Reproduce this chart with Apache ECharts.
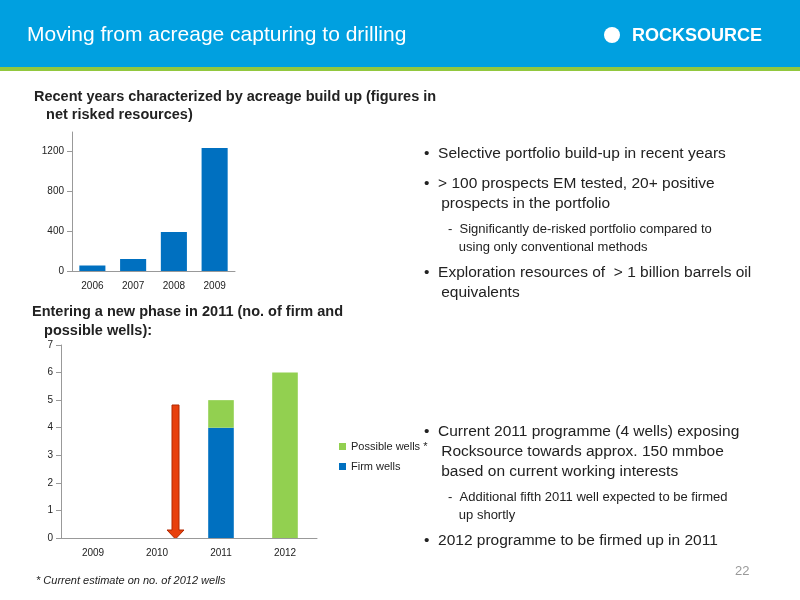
<!DOCTYPE html>
<html>
<head>
<meta charset="utf-8">
<script src="https://cdn.jsdelivr.net/npm/echarts@6/dist/echarts.min.js"></script>
<style>
  html, body { margin: 0; padding: 0; background: #fff; }
  #main { width: 800px; height: 600px; }
</style>
</head>
<body>
<div id="main"></div>
<script>
// top chart: acreage build up
const resYears = ['2006', '2007', '2008', '2009'];
const resValues = [55, 120, 390, 1230];

// bottom chart: wells
const wellYears = ['2009', '2010', '2011', '2012'];
const firmWells = [0, 0, 4, 0];
const possibleWells = [0, 0, 1, 6];

const blue = '#0070c0';
const green = '#92d050';
const font = 'Liberation Sans, Arial, sans-serif';

function txt(x, y, s, size, opts) {
  return {
    type: 'text', left: x, top: y,
    style: Object.assign({ text: s, font: size + 'px ' + font, fill: '#222' }, opts || {})
  };
}

const chart = echarts.init(document.getElementById('main'));

const bullets = [
  txt(424, 146, '•  Selective portfolio build-up in recent years', 15.5),
  txt(424, 174, '•  > 100 prospects EM tested, 20+ positive\n    prospects in the portfolio', 15.5, { lineHeight: 20 }),
  txt(448, 220, '-  Significantly de-risked portfolio compared to\n   using only conventional methods', 13, { lineHeight: 18 }),
  txt(424, 263, '•  Exploration resources of  > 1 billion barrels oil\n    equivalents', 15.5, { lineHeight: 20 }),
  txt(424, 422, '•  Current 2011 programme (4 wells) exposing\n    Rocksource towards approx. 150 mmboe\n    based on current working interests', 15.5, { lineHeight: 20 }),
  txt(448, 488, '-  Additional fifth 2011 well expected to be firmed\n   up shortly', 13, { lineHeight: 18 }),
  txt(424, 533, '•  2012 programme to be firmed up in 2011', 15.5)
];

const option = {
  animation: false,
  graphic: [
    { type: 'rect', shape: { x: 0, y: 0, width: 800, height: 68 }, style: { fill: '#00a0e0' } },
    { type: 'rect', shape: { x: 0, y: 67, width: 800, height: 4 }, style: { fill: '#92c83e' } },
    txt(27, 25, 'Moving from acreage capturing to drilling', 21, { fill: '#fff' }),
    { type: 'circle', shape: { cx: 612, cy: 35, r: 8 }, style: { fill: '#fff' } },
    txt(632, 27, 'ROCKSOURCE', 18, { fill: '#fff', font: 'bold 18px ' + font }),
    txt(34, 88, 'Recent years characterized by acreage build up (figures in\n   net risked resources)', 14.5, { font: 'bold 14.5px ' + font, lineHeight: 18 }),
    txt(32, 302, 'Entering a new phase in 2011 (no. of firm and\n   possible wells):', 14.5, { font: 'bold 14.5px ' + font, lineHeight: 19 }),
    txt(36, 575, '* Current estimate on no. of 2012 wells', 11, { font: 'italic 11px ' + font }),
    txt(735, 565, '22', 13, { fill: '#999' }),
    // red arrow annotation
    { type: 'polygon', shape: { points: [[172, 405], [179, 405], [179, 530], [184, 530], [175.5, 539], [167, 530], [172, 530]] },
      style: { fill: '#e8400c', stroke: '#b02800', lineWidth: 1 } }
  ].concat(bullets),
  grid: [
    { left: 72, top: 132, width: 163, height: 139 },
    { left: 61, top: 345, width: 256, height: 193 }
  ],
  legend: {
    orient: 'vertical', left: 334, top: 436, itemWidth: 7, itemHeight: 7, itemGap: 9,
    textStyle: { fontSize: 11, fontFamily: font, color: '#222' },
    data: [
      { name: 'Possible wells *', icon: 'rect' },
      { name: 'Firm wells', icon: 'rect' }
    ]
  },
  xAxis: [
    { gridIndex: 0, type: 'category', data: resYears,
      axisLine: { lineStyle: { color: '#999' } }, axisTick: { lineStyle: { color: '#999' } },
      axisLabel: { color: '#222', fontSize: 10, fontFamily: font, margin: 10 } },
    { gridIndex: 1, type: 'category', data: wellYears,
      axisLine: { lineStyle: { color: '#999' } }, axisTick: { lineStyle: { color: '#999' } },
      axisLabel: { color: '#222', fontSize: 10, fontFamily: font, margin: 10 } }
  ],
  yAxis: [
    { gridIndex: 0, type: 'value', min: 0, max: 1390, interval: 400, splitLine: { show: false },
      axisLine: { show: true, lineStyle: { color: '#999' } }, axisTick: { show: true, lineStyle: { color: '#999' } },
      axisLabel: { color: '#222', fontSize: 10, fontFamily: font, showMaxLabel: false, formatter: v => String(v) } },
    { gridIndex: 1, type: 'value', min: 0, max: 7, interval: 1, splitLine: { show: false },
      axisLine: { show: true, lineStyle: { color: '#999' } }, axisTick: { show: true, lineStyle: { color: '#999' } },
      axisLabel: { color: '#222', fontSize: 10, fontFamily: font } }
  ],
  series: [
    { type: 'bar', xAxisIndex: 0, yAxisIndex: 0, data: resValues, barWidth: '64%',
      itemStyle: { color: blue } },
    { name: 'Firm wells', type: 'bar', stack: 'w', xAxisIndex: 1, yAxisIndex: 1, data: firmWells,
      barWidth: '40%', itemStyle: { color: blue } },
    { name: 'Possible wells *', type: 'bar', stack: 'w', xAxisIndex: 1, yAxisIndex: 1, data: possibleWells,
      barWidth: '40%', itemStyle: { color: green } }
  ]
};
chart.setOption(option);
</script>
</body>
</html>
